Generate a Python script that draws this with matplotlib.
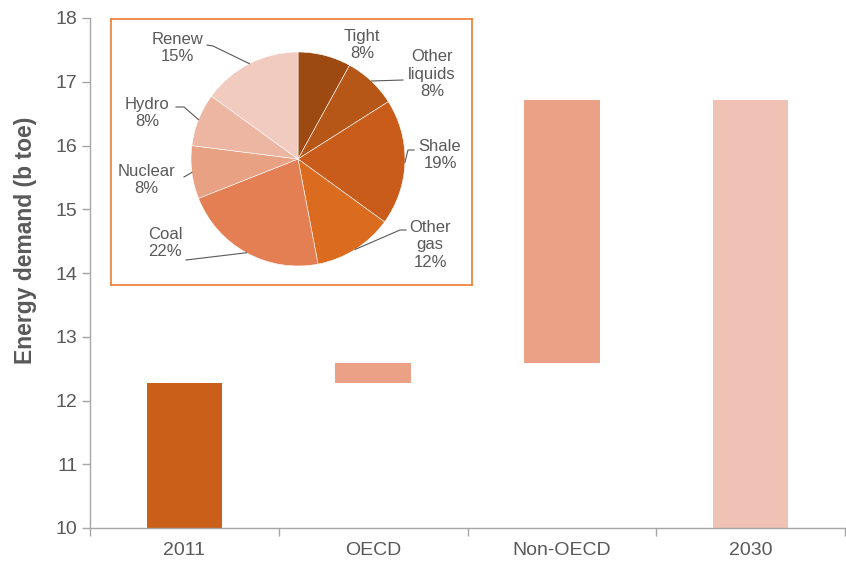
import matplotlib
matplotlib.use("Agg")
import matplotlib.pyplot as plt
import numpy as np

plt.rcParams['font.family'] = ['Liberation Sans', 'DejaVu Sans']

# ---- data ----
categories = ["2011", "OECD", "Non-OECD", "2030"]
bar_bottoms = [10.0, 12.27, 12.59, 10.0]
bar_tops = [12.27, 12.59, 16.72, 16.72]
bar_colors = ["#C95F19", "#EAA186", "#EAA186", "#F0C1B5"]

pie_labels = ["Tight", "Other\nliquids", "Shale", "Other\ngas", "Coal", "Nuclear", "Hydro", "Renew"]
pie_values = [8, 8, 19, 12, 22, 8, 8, 15]
pie_colors = ["#9C4A12", "#B65617", "#C95C1A", "#DA6B1F", "#E37F52", "#E9A184", "#EDB6A2", "#F1CAC0"]

GRAY = "#595959"
AXGRAY = "#A6A6A6"

W, H = 846, 563
fig = plt.figure(figsize=(W / 100, H / 100), dpi=100)

# ---- main axes ----
L, R, T, B = 90, 845, 18, 528
ax = fig.add_axes([L / W, (H - B) / H, (R - L) / W, (B - T) / H])
x = np.arange(len(categories))
heights = [t - b for t, b in zip(bar_tops, bar_bottoms)]
ax.bar(x, heights, bottom=bar_bottoms, width=0.4, color=bar_colors, zorder=2)
ax.set_xlim(-0.5, 3.5)
ax.set_ylim(10, 18)
ax.set_yticks(np.arange(10, 19, 1))
ax.tick_params(axis='y', colors=AXGRAY, labelcolor=GRAY, labelsize=14, length=6, width=1, pad=3)
ax.set_xticks(np.arange(-0.5, 4.0, 1.0))
ax.set_xticklabels([])
ax.set_xticks(x, minor=True)
ax.set_xticklabels(categories, minor=True)
ax.tick_params(axis='x', which='major', colors=AXGRAY, length=6, width=1)
ax.tick_params(axis='x', which='minor', length=0, labelcolor=GRAY, labelsize=14, pad=10)
for s in ["top", "right"]:
    ax.spines[s].set_visible(False)
for s in ["left", "bottom"]:
    ax.spines[s].set_color(AXGRAY)
    ax.spines[s].set_linewidth(1)
ax.set_ylabel("Energy demand (b toe)", fontsize=16.5, fontweight='bold', color=GRAY)
ax.yaxis.set_label_coords(-0.07, 0.565)

# ---- inset frame ----
bx0, bx1, by0, by1 = 111, 472, 19, 285
frame = fig.add_axes([bx0 / W, (H - by1) / H, (bx1 - bx0) / W, (by1 - by0) / H])
frame.set_xticks([])
frame.set_yticks([])
for s in frame.spines.values():
    s.set_color("#F07D2E")
    s.set_linewidth(1.2)
frame.set_facecolor("white")

# ---- pie ----
cx, cy, r = 298, 159, 107
pax = fig.add_axes([(cx - r) / W, (H - cy - r) / H, 2 * r / W, 2 * r / H])
pax.pie(pie_values, colors=pie_colors, startangle=90, counterclock=False, radius=1,
        wedgeprops=dict(edgecolor="white", linewidth=0.4))
pax.set_xlim(-1, 1)
pax.set_ylim(-1, 1)
pax.set_aspect('auto')
pax.axis('off')

def p2d(px, py):
    return ((px - cx) / r, (cy - py) / r)

# label layout (pixel positions)
text_pos = [(362, 45), (432, 74), (440, 155), (430, 245), (165, 243), (146, 180), (147, 113), (177, 48)]
leaders = [
    None,
    [(403, 80)],
    [(408, 150), (414, 150)],
    [(400, 230), (406, 230)],
    [(186, 260)],
    [(184, 177)],
    [(184, 107), (176, 107)],
    [(213, 46), (207, 45)],
]
cum = np.cumsum([0] + pie_values)
total = float(sum(pie_values))
for i, lab in enumerate(pie_labels):
    pct = 100 * pie_values[i] / total
    tx, ty = p2d(*text_pos[i])
    pax.text(tx, ty, f"{lab}\n{pct:.0f}%", ha='center', va='center', fontsize=12,
             color=GRAY, linespacing=1.2, clip_on=False)
    if leaders[i] is not None:
        mid = (cum[i] + cum[i + 1]) / 2 / total
        ang = np.deg2rad(90 - 360 * mid)
        pts = [(np.cos(ang), np.sin(ang))] + [p2d(*p) for p in leaders[i]]
        xs, ys = zip(*pts)
        pax.plot(xs, ys, color=GRAY, lw=0.8, clip_on=False)

fig.savefig("out.png", dpi=100)
